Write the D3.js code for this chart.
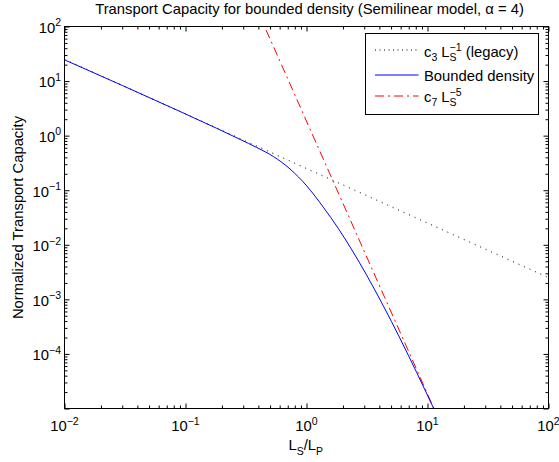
<!DOCTYPE html>
<html>
<head>
<meta charset="utf-8">
<script src="https://cdn.jsdelivr.net/npm/d3@7"></script>
<style>
  body { margin: 0; background: #fff; }
  svg text { font-family: "Liberation Sans", Arial, Helvetica, sans-serif; fill: #000; }
</style>
</head>
<body>
<svg id="chart"></svg>
<script>
// values
var legacyX = [0.01, 100];
var legacyY = [25, 0.0025];

var boundedX = [0.01, 0.0905, 0.18, 0.283, 0.389, 0.532, 0.731, 1.004, 1.375, 1.829, 2.372, 3.136, 4.298, 5.903, 8.154, 11.32];
var boundedY = [24.5, 2.76, 1.37, 0.852, 0.605, 0.415, 0.245, 0.12, 0.049, 0.02, 0.00806, 0.0028, 0.000773, 0.000196, 0.0000453, 0.0000097];

var c7X = [0.4, 12];
var c7Y = [180, 0.0000074];

var xTickExp = [-2, -1, 0, 1, 2];
var yTickExp = [-4, -3, -2, -1, 0, 1, 2];

var svgWidth = 559,
  svgHeight = 462;

var plotLeft = 64.5, plotRight = 548.5, plotTop = 26.5, plotBottom = 408.5;

var svg = d3.select("#chart").attr("width", svgWidth).attr("height", svgHeight);

var xScale = d3.scaleLog().domain([0.01, 100]).range([plotLeft, plotRight]);
var yScale = d3.scaleLog().domain([1e-5, 100]).range([plotBottom, plotTop]);

function zip(xs, ys) {
  return xs.map(function (x, i) { return { x: x, y: ys[i] }; });
}

svg.append("defs").append("clipPath").attr("id", "plotClip")
  .append("rect")
  .attr("x", plotLeft).attr("y", plotTop)
  .attr("width", plotRight - plotLeft).attr("height", plotBottom - plotTop);

// minor/major tick values
var majorX = xTickExp.map(function (e) { return Math.pow(10, e); });
var majorY = d3.range(-5, 3).map(function (e) { return Math.pow(10, e); });
var minorX = [], minorY = [];
d3.range(-2, 2).forEach(function (e) {
  for (var k = 2; k <= 9; k++) minorX.push(k * Math.pow(10, e));
});
d3.range(-5, 2).forEach(function (e) {
  for (var k = 2; k <= 9; k++) minorY.push(k * Math.pow(10, e));
});

function tickAxis(axis, vals, size, transform) {
  svg.append("g")
    .attr("transform", transform)
    .call(axis.tickValues(vals).tickSize(size).tickFormat(""))
    .call(function (g) { g.selectAll(".domain").remove(); })
    .selectAll("line").attr("stroke", "#000");
}

tickAxis(d3.axisBottom(xScale), majorX, -5, "translate(0," + plotBottom + ")");
tickAxis(d3.axisBottom(xScale), minorX, -3, "translate(0," + plotBottom + ")");
tickAxis(d3.axisTop(xScale), majorX, -5, "translate(0," + plotTop + ")");
tickAxis(d3.axisTop(xScale), minorX, -3, "translate(0," + plotTop + ")");
tickAxis(d3.axisLeft(yScale), majorY, -5, "translate(" + plotLeft + ",0)");
tickAxis(d3.axisLeft(yScale), minorY, -3, "translate(" + plotLeft + ",0)");
tickAxis(d3.axisRight(yScale), majorY, -5, "translate(" + plotRight + ",0)");
tickAxis(d3.axisRight(yScale), minorY, -3, "translate(" + plotRight + ",0)");

svg.selectAll(".tick text").remove();

// curves
var line = d3.line()
  .x(function (d) { return xScale(d.x); })
  .y(function (d) { return yScale(d.y); });

var plot = svg.append("g").attr("clip-path", "url(#plotClip)");

plot.append("path")
  .datum(zip(legacyX, legacyY))
  .attr("d", line)
  .attr("fill", "none")
  .attr("stroke", "#000")
  .attr("stroke-width", 1)
  .attr("stroke-dasharray", "1,5");

plot.append("path")
  .datum(zip(c7X, c7Y))
  .attr("d", line)
  .attr("fill", "none")
  .attr("stroke", "#ff0000")
  .attr("stroke-width", 1)
  .attr("stroke-dasharray", "9,4,2,4");

plot.append("path")
  .datum(zip(boundedX, boundedY))
  .attr("d", line.curve(d3.curveMonotoneX))
  .attr("fill", "none")
  .attr("stroke", "#0000ff")
  .attr("stroke-width", 1);

// box
svg.append("rect")
  .attr("x", plotLeft).attr("y", plotTop)
  .attr("width", plotRight - plotLeft).attr("height", plotBottom - plotTop)
  .attr("fill", "none").attr("stroke", "#000").attr("stroke-width", 1);

// tick labels
xTickExp.forEach(function (e) {
  var t = svg.append("text")
    .attr("x", xScale(Math.pow(10, e)))
    .attr("y", 431)
    .attr("text-anchor", "middle")
    .style("font-size", "14.8px");
  t.append("tspan").text("10");
  t.append("tspan").attr("dy", -6.5).style("font-size", "10.5px").text(String(e).replace("-", "\u2212"));
});

yTickExp.forEach(function (e) {
  var t = svg.append("text")
    .attr("x", 61)
    .attr("y", yScale(Math.pow(10, e)) + 6.3)
    .attr("text-anchor", "end")
    .style("font-size", "14.8px");
  t.append("tspan").text("10");
  t.append("tspan").attr("dy", -6.5).style("font-size", "10.5px").text(String(e).replace("-", "\u2212"));
});

// title and axis labels
svg.append("text")
  .attr("x", 309.5)
  .attr("y", 14)
  .attr("text-anchor", "middle")
  .style("font-size", "14.8px")
  .text("Transport Capacity for bounded density (Semilinear model, \u03b1 = 4)");

var xl = svg.append("text")
  .attr("x", 305.7)
  .attr("y", 450)
  .attr("text-anchor", "middle")
  .style("font-size", "14.8px");
xl.append("tspan").text("L");
xl.append("tspan").attr("dy", 5).style("font-size", "10.5px").text("S");
xl.append("tspan").attr("dy", -5).text("/L");
xl.append("tspan").attr("dy", 5).style("font-size", "10.5px").text("P");

svg.append("text")
  .attr("transform", "translate(23.3," + (plotTop + plotBottom) / 2 + ") rotate(-90)")
  .attr("text-anchor", "middle")
  .style("font-size", "14.8px")
  .text("Normalized Transport Capacity");

// legend
var legend = svg.append("g");
legend.append("rect")
  .attr("x", 365.5).attr("y", 33.5)
  .attr("width", 173).attr("height", 81)
  .attr("fill", "#fff").attr("stroke", "#000").attr("stroke-width", 1);

var legendRows = [
  { y: 50, color: "#000", dash: "1,3.5" },
  { y: 75, color: "#0000ff", dash: null },
  { y: 96, color: "#ff0000", dash: "9,4,2,4" }
];

legendRows.forEach(function (r) {
  legend.append("line")
    .attr("x1", 375).attr("x2", 418.5)
    .attr("y1", r.y).attr("y2", r.y)
    .attr("stroke", r.color)
    .attr("stroke-width", 1)
    .attr("stroke-dasharray", r.dash);
});

function powerLabel(y, sub, sup, tail) {
  var t = legend.append("text")
    .attr("x", 424)
    .attr("y", y)
    .style("font-size", "14.8px");
  t.append("tspan").text("c");
  t.append("tspan").attr("dy", 4).style("font-size", "10.5px").text(sub);
  t.append("tspan").attr("dy", -4).text(" L");
  t.append("tspan").attr("dy", 4.5).style("font-size", "10.5px").text("S");
  t.append("tspan").attr("dx", -7).attr("dy", -10.5).style("font-size", "10.5px").text(sup);
  if (tail) t.append("tspan").attr("dy", 6).text(tail);
}

powerLabel(56.5, "3", "\u22121", " (legacy)");

legend.append("text")
  .attr("x", 424)
  .attr("y", 80.5)
  .style("font-size", "14.8px")
  .text("Bounded density");

powerLabel(101.5, "7", "\u22125", null);
</script>
</body>
</html>
